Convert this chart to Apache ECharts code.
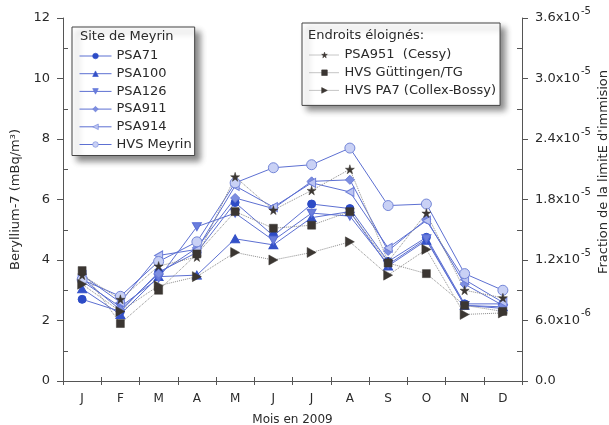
<!DOCTYPE html>
<html>
<head>
<meta charset="utf-8">
<script src="https://cdn.jsdelivr.net/npm/echarts@6/dist/echarts.min.js"></script>
<style>
html,body{margin:0;padding:0;background:#fff;}
#chart{width:609px;height:425px;}
</style>
</head>
<body>
<div id="chart"></div>
<script>
var months = ['J','F','M','A','M','J','J','A','S','O','N','D'];
var leftTickLabels = ['0','2','4','6','8','10','12'];
var rightTickLabels = ['0.0','6.0x10|-6','1.2x10|-5','1.8x10|-5','2.4x10|-5','3.0x10|-5','3.6x10|-5'];

var psa71  = [2.7, 2.3, 3.6, 4.25, 5.9, 4.8, 5.85, 5.7, 3.95, 4.75, 2.55, 2.55];
var psa100 = [3.05, 2.2, 3.45, 3.5, 4.7, 4.5, 5.4, 5.6, 3.8, 4.65, 2.5, 2.45];
var psa126 = [3.3, 2.45, 3.4, 5.1, 5.55, 4.65, 5.55, 5.45, 3.85, 4.7, 2.5, 2.4];
var psa911 = [3.4, 2.35, 3.55, 4.4, 6.05, 5.7, 6.6, 6.65, 4.3, 5.35, 3.2, 2.5];
var psa914 = [3.5, 2.6, 4.15, 4.35, 6.45, 5.75, 6.55, 6.25, 4.4, 5.3, 3.35, 2.6];
var hvsMeyrin = [3.35, 2.8, 3.95, 4.6, 6.55, 7.05, 7.15, 7.7, 5.8, 5.85, 3.55, 3.0];
var psa951 = [3.5, 2.7, 3.8, 4.1, 6.75, 5.65, 6.3, 7.0, 3.95, 5.55, 3.0, 2.75];
var guttingen = [3.65, 1.9, 3.0, 4.2, 5.6, 5.05, 5.15, 5.6, 3.9, 3.55, 2.5, 2.3];
var pa7 = [3.2, 2.3, 3.15, 3.45, 4.25, 4.0, 4.25, 4.6, 3.5, 4.35, 2.2, 2.25];

var FONT = 'DejaVu Sans';
var TXT = '#2a2a2a';
var AX = '#555';
var BLUE_LINE = '#5d70d2';
var DARK = '#3b3632';

var TRI_UP = 'path://M5,0 L10,9 L0,9 Z';
var TRI_DOWN = 'path://M0,0 L10,0 L5,9 Z';
var TRI_LEFT = 'path://M0,5 L9,0 L9,10 Z';
var TRI_RIGHT = 'path://M0,0 L9,5 L0,10 Z';
var STAR = 'path://M50,0 L61,35 L98,35 L68,57 L79,91 L50,70 L21,91 L32,57 L2,35 L39,35 Z';

function blueSeries(name, data, symbol, size, fill, border) {
  return {
    name: name, type: 'line', data: data, xAxisIndex: 0, yAxisIndex: 0,
    symbol: symbol, symbolSize: size, showAllSymbol: true,
    lineStyle: {color: BLUE_LINE, width: 1},
    itemStyle: {color: fill, borderColor: border, borderWidth: 1},
    emphasis: {disabled: true}, animation: false
  };
}
function darkSeries(name, data, symbol, size) {
  return {
    name: name, type: 'line', data: data, xAxisIndex: 0, yAxisIndex: 0,
    symbol: symbol, symbolSize: size, showAllSymbol: true,
    lineStyle: {color: '#8c8c8c', width: 1, type: 'dotted'},
    itemStyle: {color: DARK, borderColor: DARK, borderWidth: 0.5},
    emphasis: {disabled: true}, animation: false
  };
}

var names1 = ['PSA71','PSA100','PSA126','PSA911','PSA914','HVS Meyrin'];
var names2 = ['PSA951  (Cessy)','HVS Güttingen/TG','HVS PA7 (Collex-Bossy)'];

var series = [
  blueSeries(names1[0], psa71, 'circle', 8, '#2c4bc6', '#2c4bc6'),
  blueSeries(names1[1], psa100, TRI_UP, [9, 8], '#3451c8', '#3451c8'),
  blueSeries(names1[2], psa126, TRI_DOWN, [9, 8], '#6a7edc', '#5a6ed6'),
  blueSeries(names1[3], psa911, 'diamond', 9, '#7d8ee0', '#6a7cd8'),
  blueSeries(names1[4], psa914, TRI_LEFT, [8, 9], '#bcc5f2', '#6c7dd8'),
  blueSeries(names1[5], hvsMeyrin, 'circle', 10, '#c9d1f5', '#7587d8'),
  darkSeries(names2[0], psa951, STAR, 9),
  darkSeries(names2[1], guttingen, 'rect', 8),
  darkSeries(names2[2], pa7, TRI_RIGHT, [9, 10])
];

var legendBase = {
  orient: 'vertical', itemWidth: 30, itemHeight: 7, itemGap: 3.7,
  backgroundColor: '#fff', borderColor: '#444', borderWidth: 1,
  shadowBlur: 6, shadowOffsetX: 5, shadowOffsetY: 5, shadowColor: 'rgba(0,0,0,0.45)',
  selectedMode: false,
  lineStyle: {width: 1},
  itemStyle: {borderWidth: 0.6},
  textStyle: {fontFamily: FONT, fontSize: 13, color: TXT, lineHeight: 14}
};

var chart = echarts.init(document.getElementById('chart'), null, {renderer: 'canvas'});
chart.setOption({
  animation: false,
  backgroundColor: '#fff',
  grid: {left: 63, right: 87, top: 18, bottom: 44, containLabel: false, outerBoundsMode: 'none'},
  xAxis: [
    {type: 'category', data: months, position: 'bottom', boundaryGap: true,
     axisLine: {lineStyle: {color: AX, width: 1}},
     axisTick: {show: true, length: 4, lineStyle: {color: AX}},
     axisLabel: {margin: 12, fontFamily: FONT, fontSize: 12, color: TXT},
     name: 'Mois en 2009', nameLocation: 'middle', nameGap: 33,
     nameTextStyle: {fontFamily: FONT, fontSize: 12, color: TXT},
     splitLine: {show: false}},
    {type: 'category', data: months, position: 'top', boundaryGap: true,
     axisLine: {lineStyle: {color: AX, width: 1}},
     axisTick: {show: true, length: 4, lineStyle: {color: AX}},
     axisLabel: {show: false}, splitLine: {show: false}}
  ],
  yAxis: [
    {type: 'value', position: 'left', min: 0, max: 12, interval: 2,
     axisLine: {show: true, lineStyle: {color: AX, width: 1}},
     axisTick: {show: true, length: 6, lineStyle: {color: AX}},
     axisLabel: {margin: 13, fontFamily: FONT, fontSize: 13, color: TXT,
       formatter: function (v) { return leftTickLabels[Math.round(v / 2)]; }},
     splitLine: {show: false},
     name: 'Beryllium-7 (mBq/m³)', nameLocation: 'middle', nameGap: 34,
     nameTextStyle: {fontFamily: FONT, fontSize: 13, color: TXT}},
    {type: 'value', position: 'left', min: 0, max: 12, interval: 2,
     axisLine: {show: false}, axisLabel: {show: false}, splitLine: {show: false},
     axisTick: {show: true, inside: true, length: 0.01, lineStyle: {color: 'rgba(0,0,0,0)'}},
     minorTick: {show: true, splitNumber: 2, length: 5, lineStyle: {color: AX}}},
    {type: 'value', position: 'right', min: 0, max: 36, interval: 6,
     axisLine: {show: true, lineStyle: {color: AX, width: 1}},
     axisTick: {show: true, length: 6, lineStyle: {color: AX}},
     axisLabel: {margin: 13, fontFamily: FONT, fontSize: 13, color: TXT,
       formatter: function (v) {
         var s = rightTickLabels[Math.round(v / 6)];
         var p = s.split('|');
         return p.length > 1 ? '{b|' + p[0] + '}{s|' + p[1] + '}' : '{b|' + p[0] + '}';
       },
       rich: {
         b: {fontFamily: FONT, fontSize: 13, color: TXT},
         s: {fontFamily: FONT, fontSize: 10, color: TXT, padding: [0, 0, 14, 1]}
       }},
     splitLine: {show: false}},
    {type: 'value', position: 'right', min: 0, max: 36, interval: 6,
     axisLine: {show: false}, axisLabel: {show: false}, splitLine: {show: false},
     axisTick: {show: true, inside: true, length: 0.01, lineStyle: {color: 'rgba(0,0,0,0)'}},
     minorTick: {show: true, splitNumber: 2, length: 5, lineStyle: {color: AX}}}
  ],
  legend: [
    Object.assign({}, legendBase, {data: names1, left: 72, top: 27, itemWidth: 32, padding: [22, 3, 4, 7]}),
    Object.assign({}, legendBase, {data: names2, left: 302, top: 23, padding: [25, 4, 8, 7]})
  ],
  graphic: [
    {type: 'text', left: 80, top: 30, z: 100,
     style: {text: 'Site de Meyrin', font: '13px "DejaVu Sans"', fill: TXT}},
    {type: 'text', left: 308, top: 29, z: 100,
     style: {text: 'Endroits éloignés:', font: '13px "DejaVu Sans"', fill: TXT}},
    {type: 'text', x: 604, y: 172, rotation: Math.PI / 2, z: 100,
     style: {text: "Fraction de la limitE d'immision", font: '13px "DejaVu Sans"', fill: TXT,
             align: 'center', verticalAlign: 'middle'}}
  ],
  series: series
});
</script>
</body>
</html>
